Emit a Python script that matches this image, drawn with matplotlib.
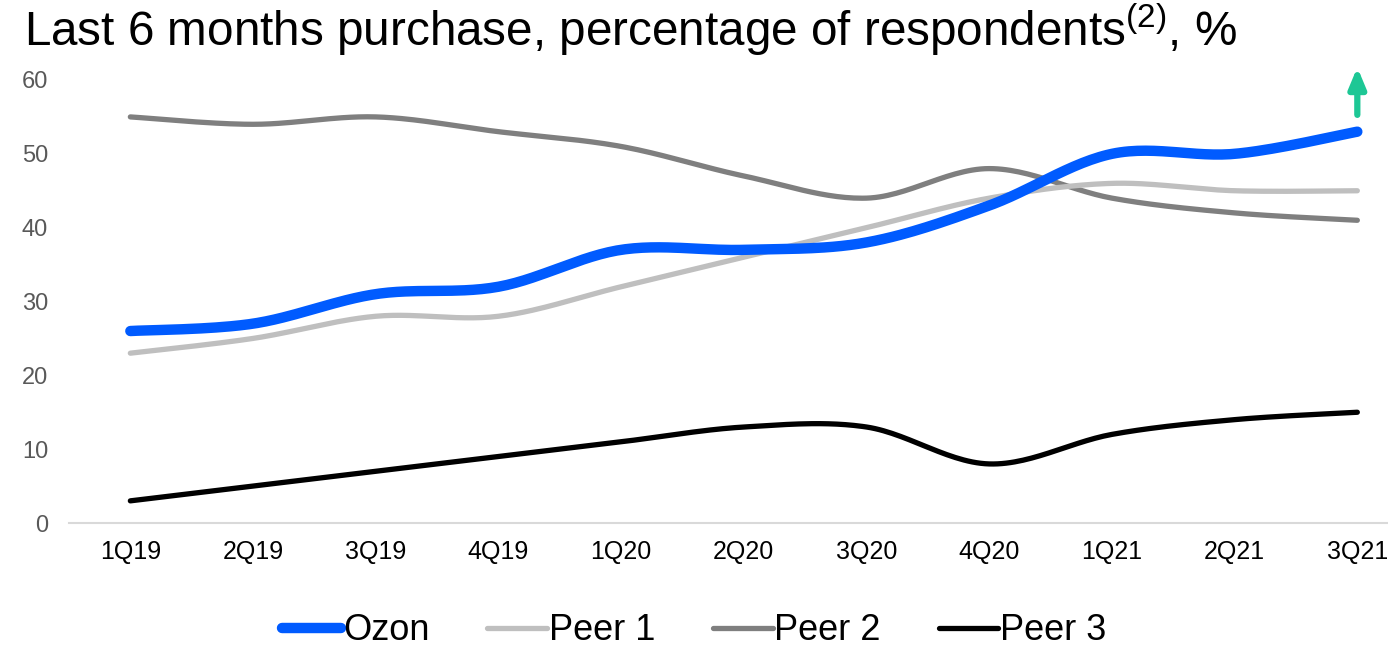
import numpy as np
import matplotlib
matplotlib.use("Agg")
import matplotlib.pyplot as plt

plt.rcParams['font.family'] = ['Liberation Sans', 'DejaVu Sans']
plt.rcParams['mathtext.fontset'] = 'custom'
plt.rcParams['mathtext.rm'] = 'Liberation Sans'

quarters = ["1Q19", "2Q19", "3Q19", "4Q19", "1Q20", "2Q20", "3Q20", "4Q20", "1Q21", "2Q21", "3Q21"]
ozon = [26, 27, 31, 32, 37, 37, 38, 43, 50, 50, 53]
peer1 = [23, 25, 28, 28, 32, 36, 40, 44, 46, 45, 45]
peer2 = [55, 54, 55, 53, 51, 47, 44, 48, 44, 42, 41]
peer3 = [3, 5, 7, 9, 11, 13, 13, 8, 12, 14, 15]


def smooth(xs, ys, n=30):
    # Excel-like smoothed line: cubic bezier with catmull-rom control points
    xs = np.asarray(xs, float)
    ys = np.asarray(ys, float)
    px = np.concatenate([[xs[0]], xs, [xs[-1]]])
    py = np.concatenate([[ys[0]], ys, [ys[-1]]])
    out_x, out_y = [], []
    t = np.linspace(0, 1, n)
    for i in range(1, len(px) - 2):
        p0 = np.array([px[i], py[i]])
        p3 = np.array([px[i + 1], py[i + 1]])
        c1 = p0 + (np.array([px[i + 1], py[i + 1]]) - np.array([px[i - 1], py[i - 1]])) / 6
        c2 = p3 - (np.array([px[i + 2], py[i + 2]]) - np.array([px[i], py[i]])) / 6
        b = ((1 - t) ** 3)[:, None] * p0 + (3 * (1 - t) ** 2 * t)[:, None] * c1 \
            + (3 * (1 - t) * t ** 2)[:, None] * c2 + (t ** 3)[:, None] * p3
        out_x.extend(b[:, 0])
        out_y.extend(b[:, 1])
    return out_x, out_y


fig = plt.figure(figsize=(13.88, 6.5), dpi=100)
ax = fig.add_axes([69 / 1388, 127 / 650, 1 - 69 / 1388, 443 / 650])

x = np.arange(len(quarters))
series = [("Ozon", ozon, "#005BFF", 7.5),
          ("Peer 1", peer1, "#BFBFBF", 3.8),
          ("Peer 2", peer2, "#7F7F7F", 3.8),
          ("Peer 3", peer3, "#000000", 3.8)]
for name, vals, col, lw in series[::-1]:
    sx, sy = smooth(x, vals)
    ax.plot(sx, sy, color=col, lw=lw, solid_capstyle="round", label=name, zorder=3 if name == "Ozon" else 2)

ax.set_xlim(-0.5, 10.25)
ax.set_ylim(0, 60)
ax.set_yticks(range(0, 61, 10))
ax.set_xticks(x)
ax.set_xticklabels(quarters)
ax.tick_params(axis="x", length=0, pad=12, labelsize=18, labelcolor="#000000")
ax.tick_params(axis="y", length=0, pad=15, labelsize=17, labelcolor="#595959")
for s in ["top", "right", "left"]:
    ax.spines[s].set_visible(False)
ax.spines["bottom"].set_color("#D9D9D9")
ax.spines["bottom"].set_linewidth(1.5)

# growth arrow next to last Ozon point
ax.annotate("", xy=(10, 62.1), xytext=(10, 54.9),
            arrowprops=dict(arrowstyle="-|>,head_width=0.5,head_length=1.2", color="#1DC795", lw=4.5),
            annotation_clip=False)

fig.text(24 / 1388, 1 - 30 / 650, r"Last 6 months purchase, percentage of respondents$^{\mathrm{(2)}}$, %",
         fontsize=34.3, va="center", ha="left")

handles, labels = ax.get_legend_handles_labels()
fig.legend(handles[::-1], labels[::-1], loc="center", bbox_to_anchor=(0.5, 1 - 631 / 650), ncol=4,
           frameon=False, fontsize=26, handlelength=1.65, handletextpad=0.05, columnspacing=1.6,
           borderpad=0.1)

fig.savefig("out.png", dpi=100)
